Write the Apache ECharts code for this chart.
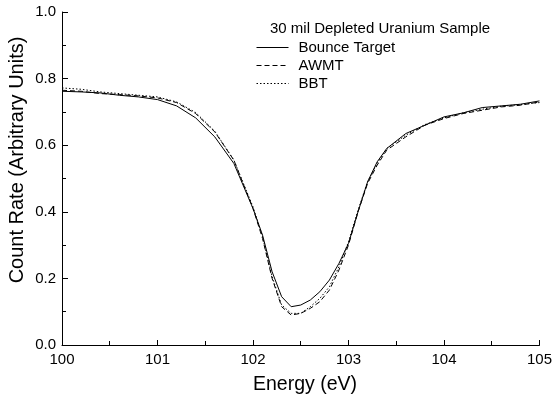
<!DOCTYPE html>
<html>
<head>
<meta charset="utf-8">
<script src="https://cdn.jsdelivr.net/npm/echarts@6/dist/echarts.min.js"></script>
<style>
  html, body { margin: 0; padding: 0; background: #fff; }
  #chart { width: 555px; height: 400px; }
</style>
</head>
<body>
<div id="chart"></div>
<script>
// energy grid (eV)
const energy = [100, 100.2, 100.4, 100.6, 100.8, 101, 101.2, 101.4, 101.6, 101.8,
  102, 102.1, 102.2, 102.3, 102.4, 102.5, 102.6, 102.7, 102.8, 102.9,
  103, 103.1, 103.2, 103.3, 103.4, 103.6, 103.8, 104, 104.2, 104.4, 104.6, 104.8, 105]
// count rates
const bounceTarget = [0.762, 0.760, 0.757, 0.750, 0.745, 0.737, 0.718, 0.682, 0.625, 0.545,
  0.410, 0.330, 0.220, 0.145, 0.115, 0.120, 0.135, 0.160, 0.195, 0.245,
  0.305, 0.400, 0.490, 0.550, 0.590, 0.635, 0.660, 0.685, 0.697, 0.713, 0.718, 0.723, 0.733]
const awmt = [0.765, 0.762, 0.755, 0.752, 0.748, 0.742, 0.728, 0.695, 0.640, 0.555,
  0.410, 0.320, 0.200, 0.115, 0.090, 0.095, 0.110, 0.130, 0.165, 0.225,
  0.300, 0.400, 0.485, 0.540, 0.585, 0.625, 0.660, 0.680, 0.695, 0.705, 0.715, 0.720, 0.730]
const bbt = [0.772, 0.768, 0.760, 0.755, 0.750, 0.745, 0.730, 0.698, 0.642, 0.555,
  0.415, 0.325, 0.205, 0.120, 0.095, 0.095, 0.115, 0.140, 0.175, 0.235,
  0.310, 0.405, 0.490, 0.545, 0.590, 0.630, 0.662, 0.682, 0.697, 0.708, 0.717, 0.722, 0.728]
const seriesNames = ['Bounce Target', 'AWMT', 'BBT']
const legendTitle = '30 mil Depleted Uranium Sample'
const xName = 'Energy (eV)'
const yName = 'Count Rate (Arbitrary Units)'

const font = 'Liberation Sans, Arial, sans-serif'
const pairs = (ys) => energy.map((x, i) => [x, ys[i]])

let chart = echarts.init(document.getElementById('chart'))

function makeSeries(name, ys, type) {
  return {
    name: name,
    type: 'line',
    data: pairs(ys),
    symbol: 'none',
    animation: false,
    lineStyle: { color: '#000', width: 1, type: type }
  }
}

let option = {
  animation: false,
  backgroundColor: '#fff',
  grid: { left: 62, right: 14, top: 12, bottom: 55 },
  graphic: [
    {
      type: 'text',
      x: 270,
      y: 29,
      style: { text: legendTitle, fill: '#000', font: '15px ' + font, textVerticalAlign: 'middle' }
    },
    {
      // y axis title sits a bit above the middle of the axis
      type: 'text',
      x: 17,
      y: 160,
      rotation: Math.PI / 2,
      style: { text: yName, fill: '#000', font: '20px ' + font, textAlign: 'center', textVerticalAlign: 'middle' }
    },
    {
      type: 'text',
      x: 305,
      y: 385,
      style: { text: xName, fill: '#000', font: '19.5px ' + font, textAlign: 'center', textVerticalAlign: 'middle' }
    }
  ],
  legend: {
    orient: 'vertical',
    left: 251,
    top: 35,
    itemWidth: 32,
    itemHeight: 14,
    itemGap: 3,
    itemStyle: { opacity: 0 },
    lineStyle: { width: 1 },
    textStyle: { color: '#000', fontSize: 15, lineHeight: 15, fontFamily: font, padding: [0, 0, 0, 5] },
    data: seriesNames
  },
  xAxis: {
    type: 'value',
    min: 100,
    max: 105,
    interval: 1,
    axisLine: { lineStyle: { color: '#000', width: 1 } },
    axisTick: { inside: true, length: 5, lineStyle: { color: '#000' } },
    minorTick: { show: true, splitNumber: 2, length: 4, lineStyle: { color: '#000' } },
    axisLabel: { color: '#000', fontSize: 15, fontFamily: font, margin: 7 },
    splitLine: { show: false }
  },
  yAxis: {
    type: 'value',
    min: 0,
    max: 1,
    interval: 0.2,
    axisLine: { show: true, lineStyle: { color: '#000', width: 1 } },
    axisTick: { show: true, inside: true, length: 6, lineStyle: { color: '#000' } },
    minorTick: { show: true, splitNumber: 2, length: 4, lineStyle: { color: '#000' } },
    axisLabel: {
      color: '#000', fontSize: 15, fontFamily: font, margin: 6,
      formatter: (v) => v.toFixed(1)
    },
    splitLine: { show: false }
  },
  series: [
    makeSeries(seriesNames[0], bounceTarget, 'solid'),
    makeSeries(seriesNames[1], awmt, [5, 3]),
    makeSeries(seriesNames[2], bbt, [1.5, 2])
  ]
}

chart.setOption(option)
</script>
</body>
</html>
